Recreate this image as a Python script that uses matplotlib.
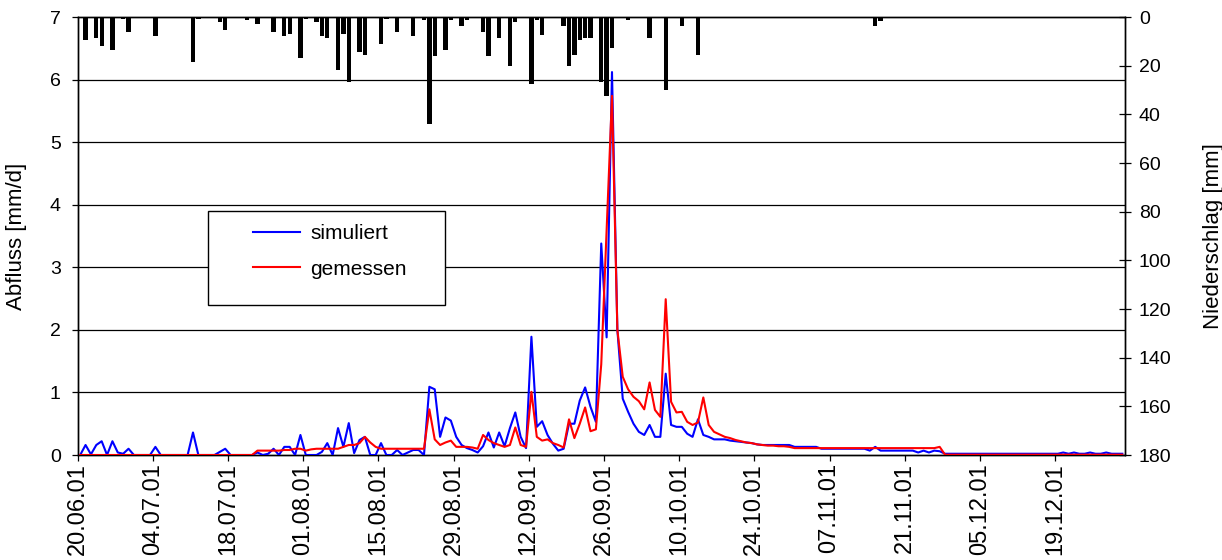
import numpy as np
import pandas as pd
import matplotlib
matplotlib.use("Agg")
import matplotlib.pyplot as plt
from matplotlib.patches import Rectangle

plt.rcParams['font.family'] = ['Liberation Sans', 'DejaVu Sans']

# ---------------- data ----------------
start_date = "2001-06-20"
n_days = 195
dates = pd.date_range(start_date, periods=n_days, freq="D")
tick_every = 14

simuliert = [
    0, 0.16, 0.01, 0.16, 0.22, 0, 0.22, 0.04, 0.02, 0.10,
    0, 0, 0, 0, 0.13, 0, 0, 0, 0, 0,
    0, 0.36, 0, 0, 0, 0, 0.05, 0.10, 0, 0,
    0, 0, 0, 0.04, 0, 0.02, 0.10, 0, 0.13, 0.13,
    0, 0.32, 0, 0, 0, 0.05, 0.19, 0, 0.43, 0.13,
    0.51, 0.03, 0.24, 0.29, 0, 0, 0.19, 0, 0, 0.08,
    0, 0.04, 0.08, 0.08, 0, 1.09, 1.05, 0.29, 0.60, 0.55,
    0.29, 0.16, 0.11, 0.08, 0.04, 0.14, 0.36, 0.12, 0.36, 0.14,
    0.43, 0.68, 0.29, 0.11, 1.89, 0.45, 0.54, 0.32, 0.18, 0.07,
    0.10, 0.50, 0.50, 0.87, 1.08, 0.77, 0.53, 3.38, 1.88, 6.12,
    2.00, 0.90, 0.69, 0.50, 0.37, 0.32, 0.48, 0.29, 0.29, 1.30,
    0.48, 0.45, 0.45, 0.34, 0.29, 0.57, 0.32, 0.29, 0.25, 0.25,
    0.25, 0.23, 0.22, 0.21, 0.20, 0.19, 0.17, 0.16, 0.16, 0.16,
    0.16, 0.16, 0.16, 0.13, 0.13, 0.13, 0.13, 0.13, 0.10, 0.10,
    0.10, 0.10, 0.10, 0.10, 0.10, 0.10, 0.10, 0.07, 0.13, 0.07,
    0.07, 0.07, 0.07, 0.07, 0.07, 0.07, 0.04, 0.07, 0.04, 0.07,
    0.06, 0.02, 0.02, 0.02, 0.02, 0.02, 0.02, 0.02, 0.02, 0.02,
    0.02, 0.02, 0.02, 0.02, 0.02, 0.02, 0.02, 0.02, 0.02, 0.02,
    0.02, 0.02, 0.02, 0.04, 0.02, 0.04, 0.02, 0.02, 0.04, 0.02,
    0.02, 0.04, 0.02, 0.02, 0.02,
]

gemessen = [
    0, 0, 0, 0, 0, 0, 0, 0, 0, 0,
    0, 0, 0, 0, 0, 0, 0, 0, 0, 0,
    0, 0, 0, 0, 0, 0, 0, 0, 0, 0,
    0, 0, 0, 0.07, 0.07, 0.07, 0.07, 0.07, 0.08, 0.08,
    0.10, 0.10, 0.07, 0.09, 0.10, 0.10, 0.10, 0.10, 0.10, 0.13,
    0.16, 0.16, 0.19, 0.29, 0.20, 0.13, 0.10, 0.10, 0.10, 0.10,
    0.10, 0.10, 0.10, 0.10, 0.10, 0.73, 0.25, 0.16, 0.20, 0.23,
    0.13, 0.13, 0.13, 0.12, 0.10, 0.32, 0.24, 0.19, 0.16, 0.13,
    0.16, 0.44, 0.16, 0.13, 1.01, 0.29, 0.23, 0.25, 0.19, 0.16,
    0.12, 0.57, 0.27, 0.50, 0.76, 0.38, 0.41, 1.45, 3.60, 5.74,
    2.00, 1.25, 1.05, 0.93, 0.86, 0.73, 1.16, 0.72, 0.61, 2.49,
    0.85, 0.68, 0.69, 0.53, 0.48, 0.52, 0.92, 0.48, 0.37, 0.33,
    0.29, 0.27, 0.24, 0.22, 0.20, 0.19, 0.17, 0.16, 0.15, 0.15,
    0.14, 0.14, 0.13, 0.11, 0.11, 0.11, 0.11, 0.11, 0.11, 0.11,
    0.11, 0.11, 0.11, 0.11, 0.11, 0.11, 0.11, 0.11, 0.11, 0.11,
    0.11, 0.11, 0.11, 0.11, 0.11, 0.11, 0.11, 0.11, 0.11, 0.11,
    0.13, 0.005, 0.005, 0.005, 0.005, 0.005, 0.005, 0.005, 0.005, 0.005,
    0.005, 0.005, 0.005, 0.005, 0.005, 0.005, 0.005, 0.005, 0.005, 0.005,
    0.005, 0.005, 0.005, 0.005, 0.005, 0.005, 0.005, 0.005, 0.005, 0.005,
    0.005, 0.005, 0.005, 0.005, 0.005,
]

niederschlag = [
    0, 9.6, 0, 8.6, 12.0, 0, 13.7, 0, 1.0, 6.2,
    0, 0, 0, 0, 7.9, 0, 0, 0, 0, 0,
    0, 18.5, 1.0, 0, 0, 0, 2.0, 5.5, 0, 0,
    0, 1.4, 0, 3.0, 0, 0, 6.2, 0, 7.8, 7.1,
    0, 16.9, 1.0, 0, 2.0, 7.8, 8.6, 0, 21.9, 6.8,
    26.7, 0, 14.4, 15.5, 0, 0, 11.2, 1.0, 0, 6.2,
    0, 0, 7.8, 0, 1.4, 44.0, 16.0, 0, 13.7, 1.4,
    0, 3.8, 1.4, 0, 0, 6.2, 16.2, 0, 8.6, 0,
    20.1, 2.0, 0, 0, 27.4, 1.4, 7.3, 0, 0, 0,
    3.8, 20.1, 15.5, 9.6, 8.6, 8.6, 0, 26.7, 32.6, 12.7,
    0, 0, 1.4, 0, 0, 0, 8.6, 0, 0, 30.1,
    0, 0, 3.8, 0, 0, 15.5, 0, 0, 0, 0,
    0, 0, 0, 0, 0, 0, 0, 0, 0, 0,
    0, 0, 0, 0, 0, 0, 0, 0, 0, 0,
    0, 0, 0, 0, 0, 0, 0, 0, 3.8, 1.5,
    0, 0, 0, 0, 0, 0, 0, 0, 0, 0,
    0, 0, 0, 0, 0, 0, 0, 0, 0, 0,
    0, 0, 0, 0, 0, 0, 0, 0, 0, 0,
    0, 0, 0, 0, 0, 0, 0, 0, 0, 0,
    0, 0, 0, 0, 0,
]

q_ticks = [0, 1, 2, 3, 4, 5, 6, 7]
p_ticks = [0, 20, 40, 60, 80, 100, 120, 140, 160, 180]

# ---------------- figure ----------------
W, H = 1222, 560
fig = plt.figure(figsize=(W / 100, H / 100), dpi=100)
x0, x1, y_top, y_bot = 77.5, 1125, 17, 455
ax = fig.add_axes([x0 / W, 1 - y_bot / H, (x1 - x0) / W, (y_bot - y_top) / H])

x = np.arange(n_days) + 0.5  # categories centred between tick marks

# primary axis: grid + left ticks + x ticks
ax.set_xlim(0, n_days)
ax.set_ylim(q_ticks[0], q_ticks[-1])
ax.set_yticks(q_ticks)
ax.set_yticklabels([str(v) for v in q_ticks])
for v in q_ticks[1:-1]:
    ax.axhline(v, color='black', lw=0.9, zorder=0.5)
tick_pos = np.arange(0, n_days, tick_every)
ax.set_xticks(tick_pos)
ax.set_xticklabels([dates[i].strftime('%d.%m.%y') for i in tick_pos],
                   rotation=90, fontsize=17)
ax.tick_params(axis='x', direction='out', length=4, width=0.9, pad=2)
ax.tick_params(axis='y', direction='out', length=4, width=0.9, pad=8, labelsize=14)
for s in ax.spines.values():
    s.set_color('black')
    s.set_linewidth(1.0)
ax.set_ylabel('Abfluss [mm/d]', fontsize=16)
ax.yaxis.set_label_coords((27 - x0) / (x1 - x0), 0.5)

# secondary axis: precipitation bars (inverted)
ax2 = ax.twinx()
ax2.bar(x, niederschlag, width=0.8, color='black', linewidth=0)
ax2.set_ylim(p_ticks[-1], p_ticks[0])
ax2.set_yticks(p_ticks)
ax2.tick_params(axis='y', direction='inout', length=8, width=0.9, pad=6, labelsize=14)
ax2.set_xlim(0, n_days)
ax2.set_ylabel('Niederschlag [mm]', fontsize=16)
ax2.yaxis.set_label_coords((1203 - x0) / (x1 - x0), 0.5)
for s in ax2.spines.values():
    s.set_color('black')
    s.set_linewidth(1.0)

# third axis: discharge lines (on top of bars)
ax3 = ax.twinx()
ax3.set_xlim(0, n_days)
ax3.set_ylim(q_ticks[0], q_ticks[-1])
ax3.axis('off')
l1, = ax3.plot(x, simuliert, color='#0000FF', lw=1.5, label='simuliert')
l2, = ax3.plot(x, gemessen, color='#FF0000', lw=1.5, label='gemessen')

# legend box
rect = Rectangle((208 / W, 1 - 305 / H), 237 / W, 94 / H, transform=fig.transFigure,
                 facecolor='white', edgecolor='black', lw=1.0, zorder=1, clip_on=False)
ax3.add_patch(rect)
leg = ax3.legend(handles=[l1, l2], loc='upper left',
                 bbox_to_anchor=(253 / W, 1 - 224 / H), bbox_transform=fig.transFigure,
                 frameon=False, fontsize=15, borderpad=0, borderaxespad=0,
                 handlelength=2.26, handletextpad=0.48, labelspacing=0.8)
leg.set_zorder(5)

fig.savefig('out.png', dpi=100, facecolor='white')
